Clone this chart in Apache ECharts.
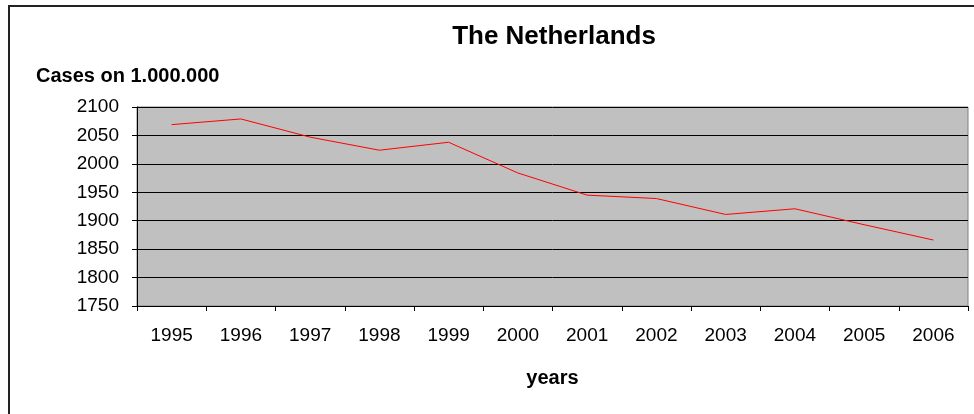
<!DOCTYPE html>
<html>
<head>
<meta charset="utf-8">
<script src="https://cdn.jsdelivr.net/npm/echarts@6/dist/echarts.min.js"></script>
<style>
  html, body { margin: 0; padding: 0; background: #fff; }
  #chart { width: 974px; height: 414px; }
</style>
</head>
<body>
<div id="chart"></div>
<script>
// data
var years = ['1995', '1996', '1997', '1998', '1999', '2000', '2001', '2002', '2003', '2004', '2005', '2006']
var cases = [2069, 2079, 2047, 2024, 2038, 1984, 1945, 1939, 1911, 1921, 1893, 1866]
var yTicks = { min: 1750, max: 2100, step: 50 }

var font = 'Liberation Sans, Arial, sans-serif'
var chart = echarts.init(document.getElementById('chart'))

var option = {
  backgroundColor: '#fff',
  animation: false,
  title: {
    text: 'The Netherlands',
    left: 549,
    top: 19,
    textAlign: 'center',
    textStyle: { fontFamily: font, fontSize: 26, fontWeight: 'bold', color: '#000' }
  },
  graphic: [
    {
      // outer chart frame
      type: 'rect',
      silent: true,
      shape: { x: 9, y: 6, width: 980, height: 430 },
      style: { fill: 'none', stroke: '#222', lineWidth: 2 }
    },
    {
      type: 'text',
      left: 36,
      top: 66,
      style: { text: 'Cases on 1.000.000', font: 'bold 20px ' + font, fill: '#000' }
    }
  ],
  grid: {
    left: 137,
    top: 107,
    right: 6,
    bottom: 108,
    show: true,
    backgroundColor: '#c0c0c0',
    borderColor: '#808080',
    borderWidth: 1
  },
  xAxis: {
    type: 'category',
    data: years,
    boundaryGap: true,
    name: 'years',
    nameLocation: 'middle',
    nameGap: 62,
    nameTextStyle: { fontFamily: font, fontSize: 20, fontWeight: 'bold', color: '#000' },
    axisLine: { show: true, lineStyle: { color: '#000', width: 1 } },
    axisTick: { show: true, length: 5, lineStyle: { color: '#000' } },
    axisLabel: { margin: 20, fontFamily: font, fontSize: 19, color: '#000' },
    splitLine: { show: false }
  },
  yAxis: {
    type: 'value',
    min: yTicks.min,
    max: yTicks.max,
    interval: yTicks.step,
    axisLine: { show: true, lineStyle: { color: '#000', width: 1 } },
    axisTick: { show: true, length: 5, lineStyle: { color: '#000' } },
    axisLabel: {
      margin: 18,
      fontFamily: font,
      fontSize: 19,
      color: '#000',
      formatter: function (v) { return String(v) }
    },
    splitLine: { show: true, lineStyle: { color: '#000', width: 1 } }
  },
  series: [
    {
      name: 'Cases',
      type: 'line',
      data: cases,
      symbol: 'none',
      lineStyle: { color: '#ff0000', width: 1 }
    }
  ]
}

chart.setOption(option)
</script>
</body>
</html>
